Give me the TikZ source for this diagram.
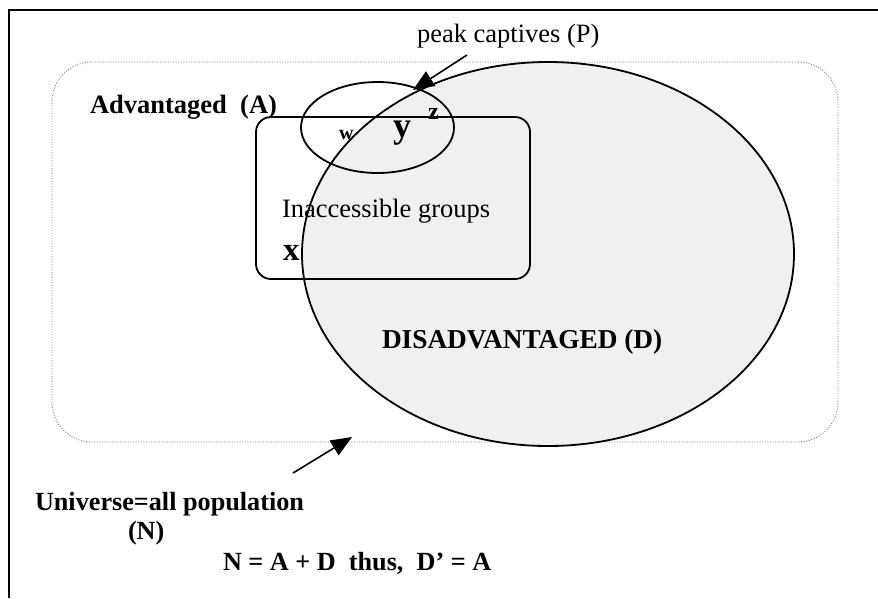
\documentclass[tikz,border=0pt]{standalone}
\usepackage{fontspec}
\setmainfont{Liberation Serif}
\usetikzlibrary{shapes.geometric,arrows.meta}
\tikzset{
  outline/.style={draw=black, line width=1.8pt, inner sep=0pt, outer sep=0pt},
  lbl/.style={anchor=base west, inner sep=0pt, outer sep=0pt, text=black},
  pointer/.style={line width=1.6pt, -{Triangle[length=21pt,width=17pt]}},
  bigtext/.style={font=\fontsize{26.5}{30}\selectfont},
  bigbold/.style={font=\fontsize{26.5}{30}\selectfont\bfseries}
}
\begin{document}
\begin{tikzpicture}[x=1pt,y=-1pt]
\useasboundingbox (0,0) rectangle (878,598);
\fill[white] (0,0) rectangle (878,598);
% frame (top and left edges visible)
\draw[line width=2pt] (9,598) -- (9,10) -- (878,10);
% universe
\node[draw=black!50, line width=0.9pt, dash pattern=on 1pt off 1.6pt,
      rectangle, rounded corners=40pt, minimum width=786pt, minimum height=380pt,
      inner sep=0pt] (U) at (445,252) {};
% disadvantaged ellipse
\node[outline, ellipse, fill=black!6, minimum width=492pt, minimum height=384pt] (D) at (548,254) {};
% inaccessible groups box
\node[outline, rectangle, rounded corners=15pt, minimum width=274pt, minimum height=162pt] (I) at (393,198) {};
% peak captives ellipse
\node[outline, ellipse, minimum width=153pt, minimum height=91pt] (P) at (377.5,127.5) {};
% texts
\node[lbl, bigtext] (tP) at (417,42) {peak captives (P)};
\node[lbl, bigbold] (tA) at (90,113) {Advantaged~~(A)};
\node[lbl, font=\fontsize{20}{22}\selectfont\bfseries] (tw) at (339,139) {w};
\node[lbl, font=\fontsize{36}{40}\selectfont\bfseries] (ty) at (393,137) {y};
\node[lbl, font=\fontsize{24}{26}\selectfont\bfseries] (tz) at (428,119) {z};
\node[lbl, bigtext] (tI) at (282,217) {Inaccessible groups};
\node[lbl, font=\fontsize{33}{36}\selectfont\bfseries] (tx) at (283,260) {x};
\node[lbl, font=\fontsize{27.3}{30}\selectfont\bfseries] (tD) at (382,348) {DISADVANTAGED (D)};
\node[lbl, font=\fontsize{26.2}{30}\selectfont\bfseries] (tU) at (35,510) {Universe=all population};
\node[lbl, font=\fontsize{26.2}{30}\selectfont\bfseries] (tN) at (128,539) {(N)};
\node[lbl, font=\fontsize{26.2}{30}\selectfont\bfseries] (tE) at (223,570) {N = A + D~~thus,~~D’ = A};
% arrows
\coordinate (ptail) at (467,55);
\coordinate (ptip) at (413,90);
\draw[pointer] (ptail) -- (ptip);
\coordinate (utail) at (293,473);
\coordinate (utip) at (352,437);
\draw[pointer] (utail) -- (utip);
\end{tikzpicture}
\end{document}
